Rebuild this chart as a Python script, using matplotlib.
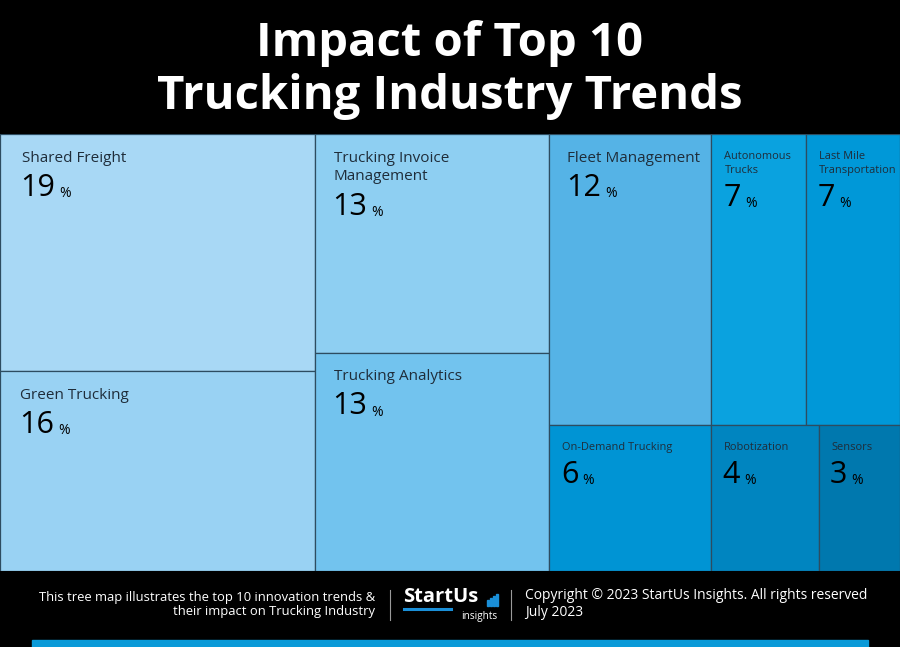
import matplotlib.pyplot as plt
from matplotlib.patches import Rectangle
from matplotlib.lines import Line2D

# datos del treemap
etiquetas = ["Shared Freight", "Green Trucking",
             "Trucking Invoice\nManagement", "Trucking Analytics",
             "Fleet Management", "Autonomous\nTrucks", "Last Mile\nTransportation",
             "On-Demand Trucking", "Robotization", "Sensors"]
valores = [19, 16, 13, 13, 12, 7, 7, 6, 4, 3]
colores = ["#A8D8F5", "#99D2F3", "#8ECFF2", "#72C3EE", "#55B3E6",
           "#0AA2DF", "#0098D8", "#0094D4", "#0085C0", "#0078AE"]

# columnas -> filas -> indices de celdas
columnas = [[[0], [1]], [[2], [3]], [[4, 5, 6], [7, 8, 9]]]

W, H = 900, 647
fig = plt.figure(figsize=(W / 100, H / 100), dpi=100, facecolor="black")

# Titulo
fig.text(0.5, 1 - 70 / H, "Impact of Top 10\nTrucking Industry Trends",
         ha="center", va="center", color="white", fontsize=34,
         fontweight="bold", family="Open Sans", linespacing=1.14)

# Area del treemap
ax = fig.add_axes([0, (H - 571) / H, 1, 437 / H])
ax.set_xlim(0, 100)
ax.set_ylim(100, 0)
ax.axis("off")

total = sum(valores)
x0 = 0
for col in columnas:
    col_total = sum(valores[i] for fila in col for i in fila)
    ancho_col = 100 * col_total / total
    y0 = 0
    for fila in col:
        fila_total = sum(valores[i] for i in fila)
        alto = 100 * fila_total / col_total
        xc = x0
        for i in fila:
            ancho = ancho_col * valores[i] / fila_total
            ax.add_patch(Rectangle((xc, y0), ancho, alto,
                                   facecolor=colores[i], edgecolor="#2d4c60",
                                   linewidth=0.9))
            v = valores[i]
            grande = v >= 12
            pad = 12 + v * 0.5 if grande else 11 + v * 0.35
            fs = 11 if grande else 7.9
            lh = 19 if grande else 14
            nlin = etiquetas[i].count("\n") + 1
            ax.annotate(etiquetas[i], xy=(xc, y0), xytext=(pad, -17),
                        textcoords="offset pixels", ha="left", va="top",
                        fontsize=fs, color="#1f2d3a", family="Open Sans",
                        linespacing=1.25 if grande else 1.35)
            base = (43 if grande else 44) + nlin * lh
            num = ax.annotate(str(v), xy=(xc, y0), xytext=(pad - 1, -base),
                              textcoords="offset pixels", ha="left",
                              va="baseline", fontsize=22, color="black",
                              family="Open Sans")
            ax.annotate("%", xy=(1, 0), xycoords=num, xytext=(4, 2),
                        textcoords="offset pixels", ha="left", va="bottom",
                        fontsize=10, color="black", family="Open Sans")
            xc += ancho
        y0 += alto
    x0 += ancho_col

# Pie de pagina
fig.text(375 / W, 1 - 604.5 / H,
         "This tree map illustrates the top 10 innovation trends &\n"
         "their impact on Trucking Industry",
         ha="right", va="center", color="white", fontsize=9.4,
         family="Open Sans", linespacing=1.15)
fig.text(525 / W, 1 - 604 / H,
         "Copyright \u00a9 2023 StartUs Insights. All rights reserved\nJuly 2023",
         ha="left", va="center", color="white", fontsize=10,
         family="Open Sans", linespacing=1.1)

for xs in (390, 511):
    fig.add_artist(Line2D([xs / W, xs / W], [1 - 590 / H, 1 - 620 / H],
                          color="#9a9a9a", linewidth=0.8))

# logo
fig.text(403 / W, 1 - 597 / H, "StartUs", ha="left", va="center",
         color="white", fontsize=14.5, fontweight="bold", family="Open Sans")
for k, h in enumerate([6, 8, 10, 12]):
    fig.add_artist(Rectangle(((487 + k * 3) / W, 1 - 606 / H), 1.6 / W, h / H,
                             transform=fig.transFigure, color="#1a8fd8"))
fig.add_artist(Line2D([404 / W, 451 / W], [1 - 609 / H, 1 - 609 / H],
                      color="#1a8fd8", linewidth=2.2))
fig.text(497 / W, 1 - 616 / H, "insights", ha="right", va="center",
         color="white", fontsize=7.2, family="Open Sans")

# barra azul inferior
fig.add_artist(Rectangle((32 / W, 0), 836 / W, 7 / H,
                         transform=fig.transFigure, color="#0a9ad8"))

fig.savefig("out.png", dpi=100, facecolor="black")
